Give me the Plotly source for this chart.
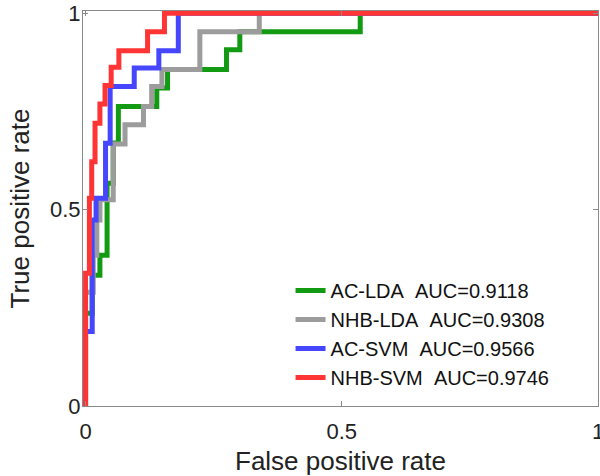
import plotly.graph_objects as go

# ROC operating points (FPR, TPR), drawn as steps
fpr_ac_lda = [0, 0, 0.013, 0.028, 0.042, 0.054, 0.064, 0.139, 0.160, 0.275, 0.301, 0.536, 1]
tpr_ac_lda = [0, 0.236, 0.333, 0.384, 0.567, 0.670, 0.763, 0.810, 0.857, 0.907, 0.953, 1, 1]

fpr_nhb_lda = [0, 0, 0.015, 0.022, 0.028, 0.054, 0.077, 0.113, 0.129, 0.149, 0.223, 0.339, 1]
tpr_nhb_lda = [0, 0.290, 0.384, 0.474, 0.525, 0.667, 0.716, 0.763, 0.814, 0.857, 0.953, 1, 1]

fpr_ac_svm = [0, 0, 0.013, 0.0205, 0.039, 0.048, 0.095, 0.143, 0.181, 1]
tpr_ac_svm = [0, 0.190, 0.474, 0.529, 0.669, 0.814, 0.861, 0.905, 1, 1]

fpr_nhb_svm = [0, 0, 0.0075, 0.012, 0.0185, 0.028, 0.038, 0.050, 0.065, 0.121, 0.154, 1]
tpr_nhb_svm = [0, 0.338, 0.529, 0.622, 0.720, 0.769, 0.816, 0.863, 0.905, 0.953, 1, 1]

names = ["AC-LDA\u00a0\u00a0AUC=0.9118", "NHB-LDA\u00a0\u00a0AUC=0.9308",
         "AC-SVM\u00a0\u00a0AUC=0.9566", "NHB-SVM\u00a0\u00a0AUC=0.9746"]
colors = ["#139a13", "#9c9c9c", "#4646ff", "#ff3535"]

tick_vals = [0, 0.5, 1]
tick_text = ["0", "0.5", "1"]

series = [(fpr_ac_lda, tpr_ac_lda), (fpr_nhb_lda, tpr_nhb_lda),
          (fpr_ac_svm, tpr_ac_svm), (fpr_nhb_svm, tpr_nhb_svm)]

fig = go.Figure()
for (fx, ty), nm, col in zip(series, names, colors):
    fig.add_trace(go.Scatter(x=fx, y=ty, mode="lines", name=nm,
                             line=dict(color=col, width=5, shape="hv")))

font = "Liberation Sans, Arial, Helvetica, sans-serif"
axis_common = dict(showgrid=False, zeroline=False, showline=True, linecolor="#8a8a8a",
                   linewidth=1, mirror="ticks", ticks="inside", ticklen=5,
                   tickcolor="#8a8a8a", tickvals=tick_vals, ticktext=tick_text,
                   automargin=False, ticklabeloverflow="allow",
                   tickfont=dict(family=font, size=22, color="#222"))

fig.update_layout(
    width=600, height=476,
    margin=dict(l=83, r=2, t=11, b=70, autoexpand=False),
    paper_bgcolor="white", plot_bgcolor="white",
    xaxis=dict(range=[-0.005, 1], ticklabelstandoff=6,
               title=dict(text="False positive rate\u00a0\u00a0",
                          font=dict(family=font, size=26, color="#222"), standoff=12),
               **axis_common),
    yaxis=dict(range=[0, 1.006], ticklabelstandoff=-3,
               title=dict(text="True positive rate",
                          font=dict(family=font, size=26, color="#222"), standoff=12),
               **axis_common),
    legend=dict(x=0.403, y=0.342, xanchor="left", yanchor="top",
                font=dict(family=font, size=20, color="#111"),
                bgcolor="rgba(0,0,0,0)", borderwidth=0, tracegroupgap=0),
    showlegend=True,
)

fig.write_html("out.html", config={"displayModeBar": False},
               post_script="document.body.style.margin='0px';document.body.style.overflow='hidden';")
